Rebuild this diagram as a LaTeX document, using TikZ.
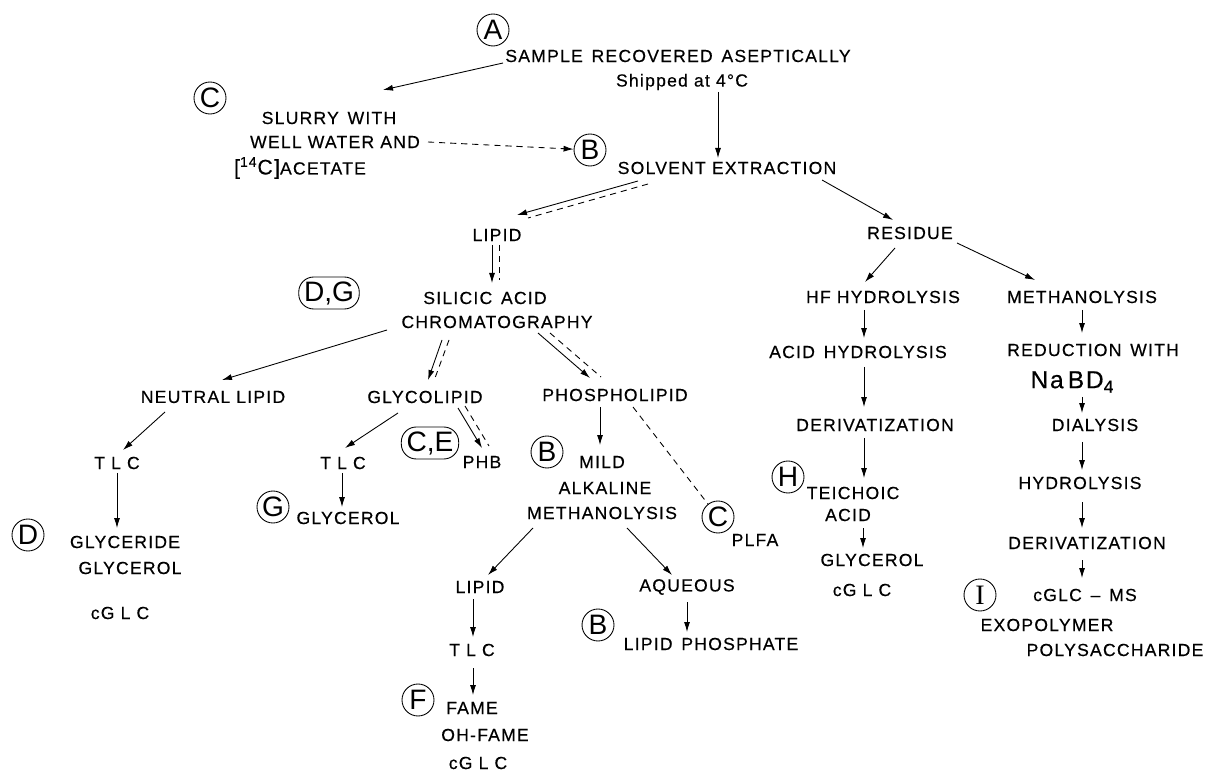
\documentclass[tikz,border=0pt]{standalone}
\usepackage{fontspec}
\setmainfont{Liberation Sans}[LetterSpace=7, FakeBold=0.4]
\newfontfamily\tagfamily{Liberation Sans}
\newfontfamily\seriftag{Liberation Serif}
\usetikzlibrary{calc, arrows.meta}
\newcommand{\lblfont}{\fontsize{10}{12}\selectfont}
\newcommand{\tagfont}{\tagfamily\fontsize{16}{18}\selectfont}

\begin{document}
\begin{tikzpicture}[x=0.02cm, y=-0.02cm,
  lbl/.style={font=\lblfont, inner sep=1pt},
  tag/.style={circle, draw, line width=0.5pt, minimum size=0.64cm, inner sep=0pt, font=\tagfont},
  tagbox/.style={rounded corners=0.3cm, draw, line width=0.5pt, minimum height=0.64cm, inner xsep=3pt, inner ysep=0pt, font=\tagfont},
  flow/.style={-{Latex[length=2mm,width=1.2mm]}, line width=0.5pt},
  trace/.style={line width=0.5pt, dash pattern=on 3.5pt off 2.8pt}]

\useasboundingbox[fill=white] (0,0) rectangle (1214,773);

% --- Sample and slurry ---
\node[tag] (tagA) at (493,30) {A};
\node[lbl] (sample) at (678,56) {SAMPLE\enspace RECOVERED\enspace ASEPTICALLY};
\node[lbl] (shipped) at (682,82) {Shipped at 4°C};
\node[tag] (tagC1) at (210,98) {C};
\node[lbl] (slurryA) at (329,118) {SLURRY\enspace WITH};
\node[lbl] (slurryB) at (335,142) {WELL WATER AND};
\node[lbl] (slurryC) at (300,168) {{\large[\textsuperscript{14}C]}ACETATE};
\node[tag] (tagB1) at (590,150) {B};
\node[lbl] (solvent) at (727,168) {SOLVENT EXTRACTION};

\draw[flow] ($(sample)+(-175,7)$) -- ($(slurryA)+(54,-28)$);
\draw[flow, trace] ($(slurryB)+(93,0)$) -- (tagB1);
\draw[flow] ($(shipped)+(36,10)$) -- ($(solvent)+(-9,-10)$);

% --- Lipid branch ---
\node[lbl] (lipidA) at (497,235) {LIPID};
\node[tagbox] (tagDG) at (329,293) {D,G};
\node[lbl] (silicic) at (485,298) {SILICIC\enspace ACID};
\node[lbl] (chrom) at (497,322) {CHROMATOGRAPHY};

\draw[flow] ($(solvent)+(-89,13)$) -- ($(lipidA)+(20,-20)$);
\draw[trace] ($(solvent)+(-79,16)$) -- ($(lipidA)+(31,-17)$);
\draw[flow] ($(lipidA)+(-5,10)$) -- ($(silicic)+(7,-15)$);
\draw[trace] ($(lipidA)+(2,10)$) -- ($(silicic)+(14,-18)$);

% --- Neutral lipid ---
\node[lbl] (neutral) at (213,397) {NEUTRAL LIPID};
\node[lbl] (tlcA) at (117,463) {T L C};
\node[tag] (tagD) at (28,535) {D};
\node[lbl] (glyceride) at (125,542) {GLYCERIDE};
\node[lbl] (glycerolA) at (130,568) {GLYCEROL};
\node[lbl] (cglcA) at (120,613) {cG L C};

\draw[flow] ($(chrom)+(-110,8)$) -- ($(neutral)+(9,-17)$);
\draw[flow] ($(neutral)+(-48,15)$) -- ($(tlcA)+(6,-13)$);
\draw[flow] ($(tlcA)+(0,10)$) -- ($(glyceride)+(-8,-14)$);

% --- Glycolipid ---
\node[lbl] (glyco) at (425,397) {GLYCOLIPID};
\node[lbl] (tlcB) at (343,463) {T L C};
\node[tag] (tagG) at (273,507) {G};
\node[lbl] (glycerolB) at (348,518) {GLYCEROL};
\node[tagbox] (tagCE) at (430,443) {C,E};
\node[lbl] (phb) at (482,462) {PHB};

\draw[flow] ($(chrom)+(-55,18)$) -- ($(glyco)+(3,-17)$);
\draw[trace] ($(chrom)+(-48,18)$) -- ($(glyco)+(10,-19)$);
\draw[flow] ($(glyco)+(-27,16)$) -- ($(tlcB)+(2,-15)$);
\draw[flow] ($(tlcB)+(-1,10)$) -- ($(glycerolB)+(-6,-11)$);
\draw[flow] ($(glyco)+(33,11)$) -- ($(phb)+(0,-14)$);
\draw[trace] ($(glyco)+(40,9)$) -- ($(phb)+(7,-16)$);

% --- Phospholipid ---
\node[lbl] (phos) at (615,395) {PHOSPHOLIPID};
\node[tag] (tagB2) at (547,452) {B};
\node[lbl] (mild) at (602,462) {MILD};
\node[lbl] (alkaline) at (605,488) {ALKALINE};
\node[lbl] (methanA) at (602,513) {METHANOLYSIS};
\node[tag] (tagC2) at (718,517) {C};
\node[lbl] (plfa) at (755,540) {PLFA};
\node[lbl] (lipidB) at (480,587) {LIPID};
\node[lbl] (aqueous) at (687,587) {AQUEOUS};
\node[lbl] (tlcC) at (472,650) {T L C};
\node[tag] (tagF) at (418,700) {F};
\node[lbl] (fame) at (472,708) {FAME};
\node[lbl] (ohfame) at (485,735) {OH-FAME};
\node[lbl] (cglcB) at (478,763) {cG L C};
\node[tag] (tagB3) at (598,625) {B};
\node[lbl] (lipphos) at (711,644) {LIPID\enspace PHOSPHATE};

\draw[flow] ($(chrom)+(41,11)$) -- ($(phos)+(-25,-17)$);
\draw[trace] ($(chrom)+(53,11)$) -- ($(phos)+(-14,-18)$);
\draw[flow] ($(phos)+(-15,12)$) -- ($(mild)+(-2,-17)$);
\draw[trace] ($(phos)+(18,12)$) -- (tagC2);
\draw[flow] ($(methanA)+(-69,15)$) -- ($(lipidB)+(8,-12)$);
\draw[flow] ($(methanA)+(25,15)$) -- ($(aqueous)+(-15,-12)$);
\draw[flow] ($(lipidB)+(-7,12)$) -- ($(tlcC)+(1,-13)$);
\draw[flow] ($(tlcC)+(1,18)$) -- ($(fame)+(1,-13)$);
\draw[flow] ($(aqueous)+(0,15)$) -- ($(lipphos)+(-24,-12)$);

% --- Residue ---
\node[lbl] (residue) at (910,233) {RESIDUE};
\node[lbl] (hf) at (883,297) {HF HYDROLYSIS};
\node[lbl] (acid) at (858,352) {ACID\enspace HYDROLYSIS};
\node[lbl] (derivA) at (875,425) {DERIVATIZATION};
\node[tag] (tagH) at (788,477) {H};
\node[lbl] (teichoic) at (853,493) {TEICHOIC};
\node[lbl] (acidB) at (848,515) {ACID};
\node[lbl] (glycerolC) at (872,560) {GLYCEROL};
\node[lbl] (cglcC) at (862,590) {cG L C};

\draw[flow] ($(solvent)+(95,12)$) -- ($(residue)+(-17,-13)$);
\draw[flow] ($(residue)+(-15,15)$) -- ($(hf)+(-18,-15)$);
\draw[flow] ($(hf)+(-19,13)$) -- ($(acid)+(6,-14)$);
\draw[flow] ($(acid)+(6,15)$) -- ($(derivA)+(-11,-18)$);
\draw[flow] ($(derivA)+(-11,13)$) -- ($(teichoic)+(11,-15)$);
\draw[flow] ($(acidB)+(15,13)$) -- ($(glycerolC)+(-9,-12)$);

% --- Methanolysis of residue ---
\node[lbl] (methanB) at (1082,297) {METHANOLYSIS};
\node[lbl] (reduction) at (1093,350) {REDUCTION\enspace WITH};
\node[lbl, font=\fontsize{14}{16}\selectfont] (nabd) at (1072,382) {Na\,BD\raisebox{-0.35ex}{\lblfont 4}};
\node[lbl] (dialysis) at (1095,425) {DIALYSIS};
\node[lbl] (hydrolysis) at (1080,483) {HYDROLYSIS};
\node[lbl] (derivB) at (1087,543) {DERIVATIZATION};
\node[tag, font=\seriftag\fontsize{16}{18}\selectfont] (tagI) at (980,595) {I};
\node[lbl] (cglcms) at (1085,595) {cGLC\enspace--\enspace MS};
\node[lbl] (exo) at (1047,625) {EXOPOLYMER};
\node[lbl] (polysac) at (1115,650) {POLYSACCHARIDE};

\draw[flow] ($(residue)+(47,10)$) -- ($(methanB)+(-47,-17)$);
\draw[flow] ($(methanB)+(0,13)$) -- ($(reduction)+(-11,-17)$);
\draw[flow] ($(nabd)+(10,15)$) -- ($(dialysis)+(-13,-12)$);
\draw[flow] ($(dialysis)+(-13,17)$) -- ($(hydrolysis)+(2,-13)$);
\draw[flow] ($(hydrolysis)+(2,19)$) -- ($(derivB)+(-5,-15)$);
\draw[flow] ($(derivB)+(-5,17)$) -- ($(cglcms)+(-3,-17)$);

\end{tikzpicture}
\end{document}
